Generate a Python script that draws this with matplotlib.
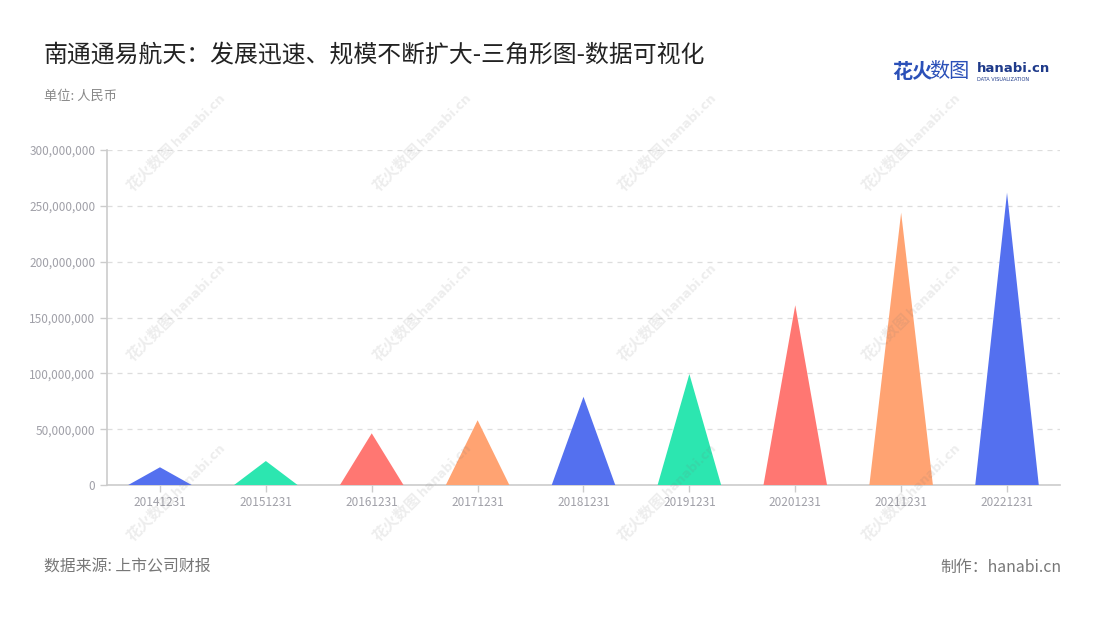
import matplotlib
matplotlib.use('Agg')
import matplotlib.pyplot as plt
from matplotlib.patches import Polygon
from matplotlib.ticker import FuncFormatter
import numpy as np

plt.rcParams['font.family'] = ['Noto Sans CJK SC', 'DejaVu Sans']

# data
dates = ['20141231', '20151231', '20161231', '20171231', '20181231',
         '20191231', '20201231', '20211231', '20221231']
values = [15.9e6, 21.5e6, 46.3e6, 58.0e6, 79.0e6, 99.4e6, 161.0e6, 243.9e6, 261.8e6]
palette = ['#5470ef', '#2ce6b0', '#ff7772', '#ffa372']

title = '南通通易航天：发展迅速、规模不断扩大-三角形图-数据可视化'
unit = '单位: 人民币'
source = '数据来源: 上市公司财报'
maker = '制作：hanabi.cn'

fig = plt.figure(figsize=(11, 6.2), dpi=100)
ax = fig.add_axes([0.0973, 0.2177, 0.8663, 0.5403])

half = 0.3
for i, v in enumerate(values):
    tri = Polygon([(i - half, 0), (i, v), (i + half, 0)], closed=True,
                  facecolor=palette[i % len(palette)], edgecolor='none', zorder=3)
    ax.add_patch(tri)

ax.set_xlim(-0.5, len(dates) - 0.5)
ax.set_ylim(0, 300e6)
ax.set_yticks(np.arange(0, 300e6 + 1, 50e6))
ax.yaxis.set_major_formatter(FuncFormatter(lambda v, p: f'{int(v):,}'))
ax.set_xticks(range(len(dates)))
ax.set_xticklabels(dates)

ax.grid(axis='y', color='#dddddd', linestyle=(0, (4, 4)), linewidth=0.9, zorder=0)
for s in ['top', 'right']:
    ax.spines[s].set_visible(False)
for s in ['left', 'bottom']:
    ax.spines[s].set_color('#cccccc')
    ax.spines[s].set_linewidth(1.2)
ax.tick_params(axis='both', colors='#cccccc', labelcolor='#a0a0a8', labelsize=8.5,
               length=5, width=1)
ax.tick_params(axis='x', pad=3)

# watermarks (faint, on top like the original)
for wx in [0.159, 0.382, 0.605, 0.827]:
    for wy in [0.766, 0.492, 0.202]:
        fig.text(wx - 0.022, wy - 0.035, '花火数图', rotation=45, fontsize=11,
                 color='#777777', alpha=0.13, ha='center', va='center',
                 fontweight='bold', zorder=5)
        fig.text(wx + 0.022, wy + 0.040, 'hanabi.cn', rotation=45, fontsize=9,
                 color='#777777', alpha=0.13, ha='center', va='center',
                 fontweight='bold', zorder=5, family=['DejaVu Sans'])

fig.text(0.040, 0.911, title, fontsize=17.2, color='#222222', ha='left', va='center')
fig.text(0.040, 0.845, unit, fontsize=9.5, color='#888888', ha='left', va='center')
fig.text(0.040, 0.085, source, fontsize=11.4, color='#777777', ha='left', va='center')
fig.text(0.965, 0.085, maker, fontsize=11.4, color='#777777', ha='right', va='center')

# logo
fig.text(0.811, 0.884, '花火', fontsize=14.5, color='#2b50b8', fontweight='bold',
         ha='left', va='center')
fig.text(0.845, 0.884, '数图', fontsize=14.5, color='#2b50b8', ha='left', va='center')
fig.text(0.888, 0.890, 'hanabi.cn', fontsize=9.5, color='#1e3a8a', fontweight='bold',
         ha='left', va='center', family=['DejaVu Sans'])
fig.text(0.888, 0.872, 'DATA VISUALIZATION', fontsize=3.6, color='#1e3a8a',
         ha='left', va='center', family=['DejaVu Sans'])

fig.savefig('out.png', dpi=100)
